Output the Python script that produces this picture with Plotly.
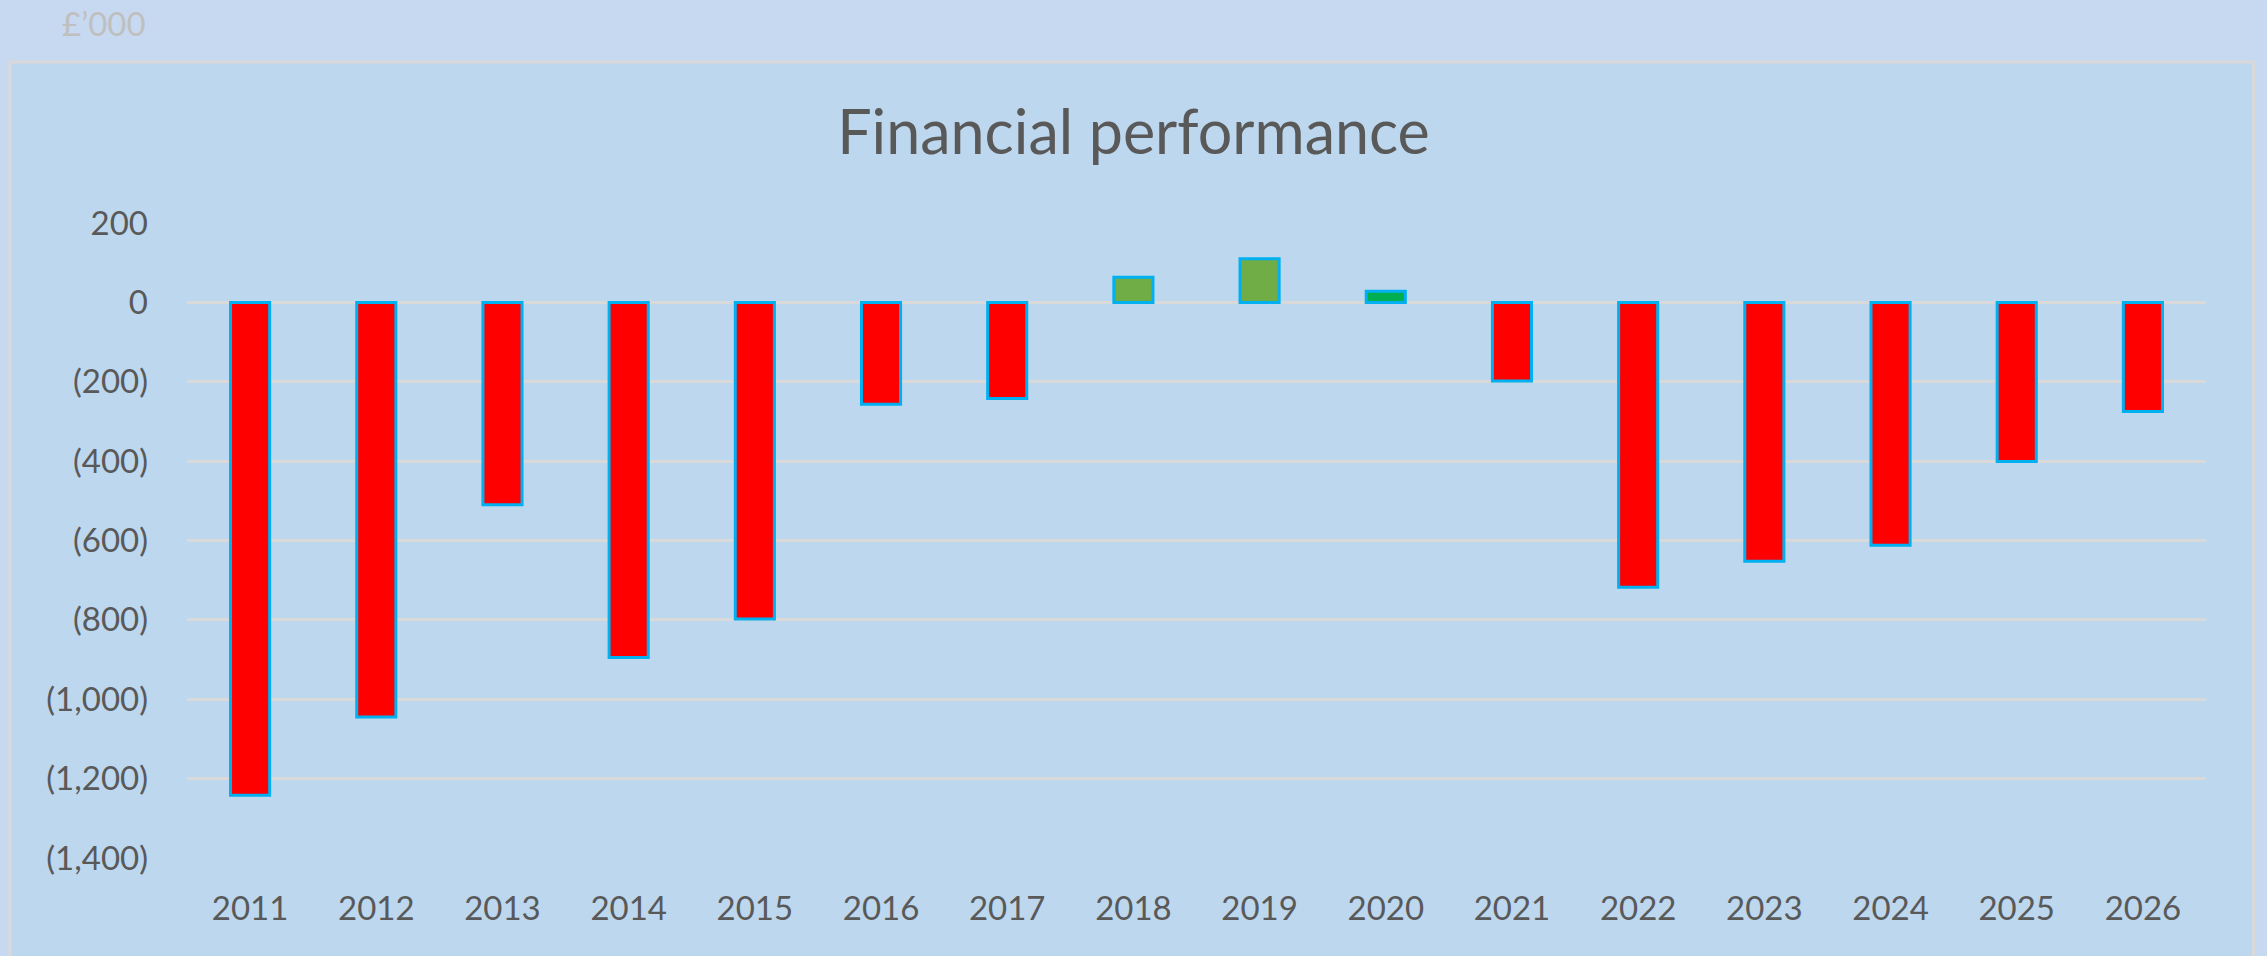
import plotly.graph_objects as go

# ---- data ----
years = ["2011", "2012", "2013", "2014", "2015", "2016", "2017", "2018",
         "2019", "2020", "2021", "2022", "2023", "2024", "2025", "2026"]
values = [-1242, -1045, -510, -895, -798, -257, -242, 63,
          110, 28, -198, -718, -652, -612, -401, -275]
tick_vals = [200, 0, -200, -400, -600, -800, -1000, -1200, -1400]
tick_labels = ["200", "0", "(200)", "(400)", "(600)", "(800)",
               "(1,000)", "(1,200)", "(1,400)"]
title_text = "Financial performance"
unit_text = "£’000"

# ---- styles ----
bar_colors = ["#ff0000"] * 7 + ["#70ad47", "#70ad47", "#00b050"] + ["#ff0000"] * 6
FONT = "Lato, Carlito, Calibri, sans-serif"
TXT = "#595959"
GRID = "#d9d9d9"

W, H = 2267, 956
ML, MR, MT, MB = 187, 61, 223, 98
PL, PR, PT, PB = ML, W - MR, MT, H - MB
pw, ph = PR - PL, PB - PT


def px_x(px):
    return (px - PL) / pw


def px_y(py):
    return (PB - py) / ph


fig = go.Figure(
    go.Bar(
        x=years,
        y=values,
        marker=dict(color=bar_colors, line=dict(color="#00b0f0", width=3)),
        hoverinfo="x+y",
    )
)

fig.update_layout(
    width=W,
    height=H,
    margin=dict(l=ML, r=MR, t=MT, b=MB, pad=0),
    paper_bgcolor="#c6d9f0",
    plot_bgcolor="rgba(0,0,0,0)",
    bargap=0.69,
    showlegend=False,
    title=dict(
        text=title_text,
        font=dict(family=FONT, size=61, color=TXT),
        x=0.5,
        xref="container",
        xanchor="center",
        y=1 - 133 / H,
        yref="container",
        yanchor="middle",
    ),
    xaxis=dict(
        type="category",
        showgrid=False,
        zeroline=False,
        showline=False,
        ticks="",
        tickfont=dict(family=FONT, size=33, color=TXT),
        ticklabelstandoff=28,
    ),
    yaxis=dict(
        range=[-1400, 200],
        tickvals=tick_vals,
        ticktext=tick_labels,
        showgrid=True,
        gridcolor=GRID,
        gridwidth=3,
        zeroline=True,
        zerolinecolor=GRID,
        zerolinewidth=3,
        showline=False,
        ticks="",
        tickfont=dict(family=FONT, size=33, color=TXT),
        ticklabelstandoff=38,
    ),
    shapes=[
        dict(
            type="rect",
            xref="paper",
            yref="paper",
            x0=px_x(10),
            x1=px_x(2253.5),
            y0=px_y(H + 20),
            y1=px_y(62),
            fillcolor="#bdd7ee",
            line=dict(color=GRID, width=3),
            layer="below",
        )
    ],
    annotations=[
        dict(
            text=unit_text,
            xref="paper",
            yref="paper",
            x=px_x(60),
            y=px_y(23),
            xanchor="left",
            yanchor="middle",
            showarrow=False,
            font=dict(family=FONT, size=33, color="#bfbfbf"),
        )
    ],
)

fig.write_html(
    "out.html",
    config={"displayModeBar": False},
    post_script="document.body.style.margin='0';document.body.style.overflow='hidden';",
)
